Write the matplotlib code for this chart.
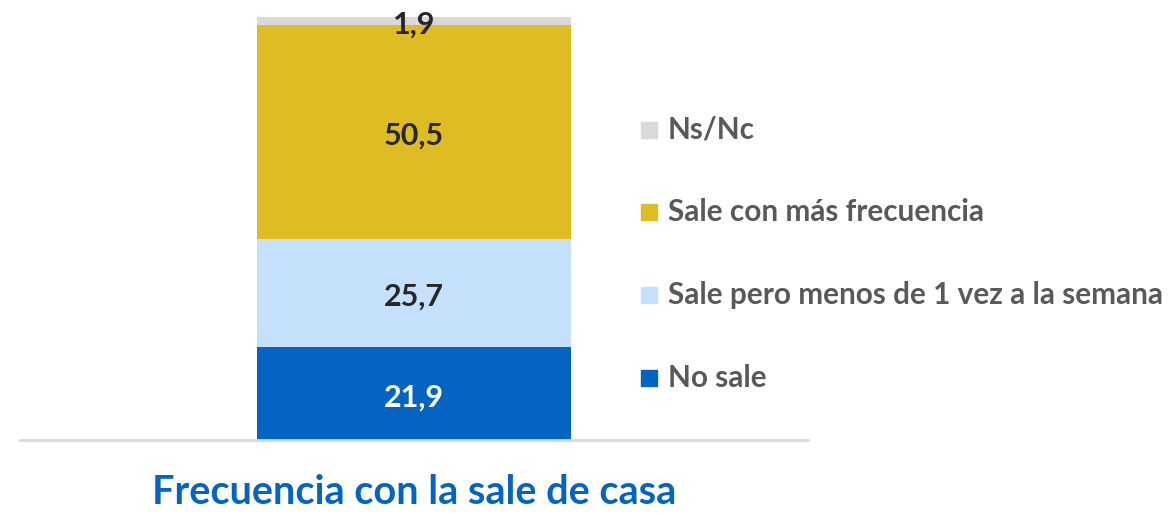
import matplotlib
matplotlib.use("Agg")
import matplotlib.pyplot as plt
from matplotlib.patches import Rectangle

# Data
categories = ["No sale", "Sale pero menos de 1 vez a la semana",
              "Sale con más frecuencia", "Ns/Nc"]
values = [21.9, 25.7, 50.5, 1.9]
value_labels = ["21,9", "25,7", "50,5", "1,9"]
colors = ["#0563C1", "#C5E0FA", "#DDBD23", "#D9D9D9"]
label_colors = ["#FFFFFF", "#262626", "#262626", "#262626"]
title = "Frecuencia con la sale de casa"

plt.rcParams["font.family"] = ["Lato", "DejaVu Sans"]

W, H = 1171, 513
fig = plt.figure(figsize=(W / 100, H / 100), dpi=100)
fig.patch.set_facecolor("white")

ax = fig.add_axes([20 / W, (H - 440) / H, 788 / W, 423 / H])
ax.set_xlim(0, 1)
ax.set_ylim(0, 100)

bottom = 0
for v, c, lab, lc in zip(values, colors, value_labels, label_colors):
    ax.bar(0.5, v, width=0.3985, bottom=bottom, color=c, edgecolor="none")
    ax.annotate(lab, (0.5, bottom + v / 2), xytext=(0, -2.5),
                textcoords="offset points", ha="center", va="center",
                fontsize=22, fontweight="bold", color=lc)
    bottom += v

for s in ["top", "right", "left"]:
    ax.spines[s].set_visible(False)
ax.spines["bottom"].set_color("#D9D9D9")
ax.spines["bottom"].set_linewidth(2)
ax.set_xticks([])
ax.set_yticks([])
ax.patch.set_alpha(0)

# Legend (top entry is the last series)
legend_y = [378, 295, 212, 130]
for cat, c, y in zip(categories, colors, legend_y):
    fig.patches.append(Rectangle((641 / W, (H - y - 8) / H), 16 / W, 16 / H,
                                 transform=fig.transFigure, color=c))
    fig.text(668 / W, (H - y) / H, cat, ha="left", va="center",
             fontsize=21.4, fontweight="bold", color="#595959")

fig.text(414 / W, (H - 492) / H, title, ha="center", va="center",
         fontsize=28.5, fontweight="bold", color="#0563C1")

fig.savefig("out.png", dpi=100)
